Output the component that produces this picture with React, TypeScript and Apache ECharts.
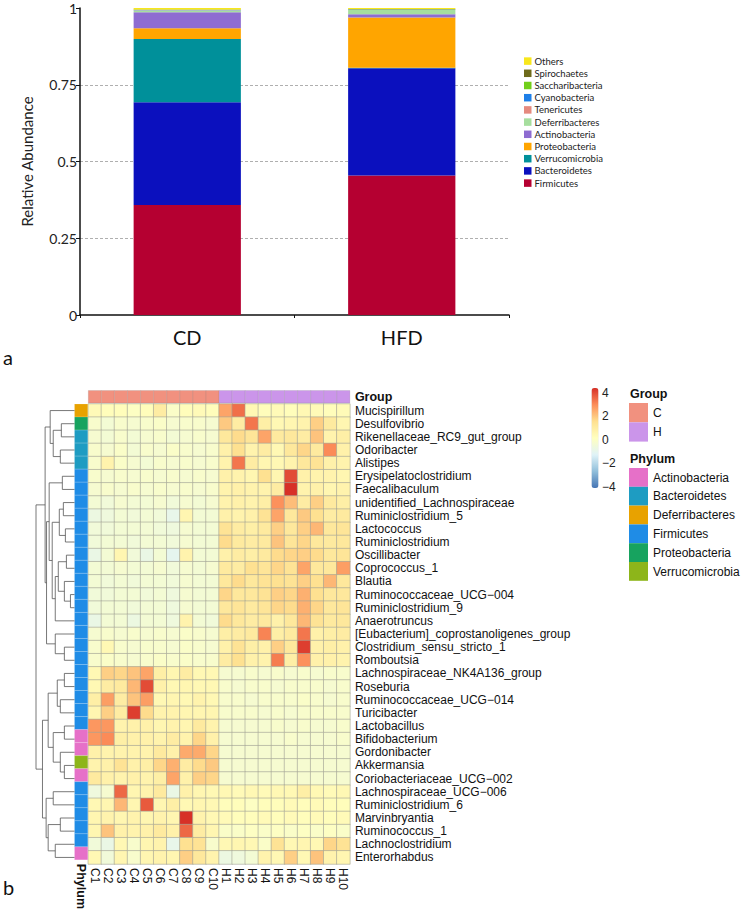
import React, { useEffect, useRef } from 'react';
import * as echarts from 'echarts';

// ---------- panel a : stacked relative abundance ----------
const barCategories = ['CD', 'HFD'];
const stackPhyla = ['Firmicutes', 'Bacteroidetes', 'Verrucomicrobia', 'Proteobacteria', 'Actinobacteria', 'Deferribacteres', 'Tenericutes', 'Cyanobacteria', 'Saccharibacteria', 'Spirochaetes', 'Others'];
const stackColors = ['#B50031', '#0B10BE', '#00909A', '#FFA500', '#8E6CD1', '#A6DE9E', '#E58A7F', '#1E7FE8', '#72CF1A', '#6E6A1A', '#F8E71C'];
const cdValues = [0.358, 0.335, 0.206, 0.035, 0.052, 0.006, 0.001, 0.0005, 0.001, 0.0005, 0.005];
const hfdValues = [0.454, 0.350, 0.001, 0.164, 0.011, 0.014, 0.0005, 0.0005, 0.001, 0.0005, 0.0035];

// ---------- panel b : heatmap ----------
const sampleNames = ['C1', 'C2', 'C3', 'C4', 'C5', 'C6', 'C7', 'C8', 'C9', 'C10', 'H1', 'H2', 'H3', 'H4', 'H5', 'H6', 'H7', 'H8', 'H9', 'H10'];
const sampleGroups = ['C', 'C', 'C', 'C', 'C', 'C', 'C', 'C', 'C', 'C', 'H', 'H', 'H', 'H', 'H', 'H', 'H', 'H', 'H', 'H'];
const groupNames = ['C', 'H'];
const groupColors = ['#F1917F', '#CB95EA'];
const phylumNames = ['Actinobacteria', 'Bacteroidetes', 'Deferribacteres', 'Firmicutes', 'Proteobacteria', 'Verrucomicrobia'];
const phylumColors = ['#E670C8', '#1E9CC2', '#E8A200', '#1F8CE6', '#17A35F', '#8DB51A'];
const genusNames = [
  'Mucispirillum', 'Desulfovibrio', 'Rikenellaceae_RC9_gut_group', 'Odoribacter', 'Alistipes',
  'Erysipelatoclostridium', 'Faecalibaculum', 'unidentified_Lachnospiraceae', 'Ruminiclostridium_5', 'Lactococcus',
  'Ruminiclostridium', 'Oscillibacter', 'Coprococcus_1', 'Blautia', 'Ruminococcaceae_UCG\u2212004',
  'Ruminiclostridium_9', 'Anaerotruncus', '[Eubacterium]_coprostanoligenes_group', 'Clostridium_sensu_stricto_1', 'Romboutsia',
  'Lachnospiraceae_NK4A136_group', 'Roseburia', 'Ruminococcaceae_UCG\u2212014', 'Turicibacter', 'Lactobacillus',
  'Bifidobacterium', 'Gordonibacter', 'Akkermansia', 'Coriobacteriaceae_UCG\u2212002', 'Lachnospiraceae_UCG\u2212006',
  'Ruminiclostridium_6', 'Marvinbryantia', 'Ruminococcus_1', 'Lachnoclostridium', 'Enterorhabdus',
];
const genusPhylum = [
  'Deferribacteres', 'Proteobacteria', 'Bacteroidetes', 'Bacteroidetes', 'Bacteroidetes',
  'Firmicutes', 'Firmicutes', 'Firmicutes', 'Firmicutes', 'Firmicutes',
  'Firmicutes', 'Firmicutes', 'Firmicutes', 'Firmicutes', 'Firmicutes',
  'Firmicutes', 'Firmicutes', 'Firmicutes', 'Firmicutes', 'Firmicutes',
  'Firmicutes', 'Firmicutes', 'Firmicutes', 'Firmicutes', 'Firmicutes',
  'Actinobacteria', 'Actinobacteria', 'Verrucomicrobia', 'Actinobacteria', 'Firmicutes',
  'Firmicutes', 'Firmicutes', 'Firmicutes', 'Firmicutes', 'Actinobacteria',
];
// rows: genus, columns: C1..C10, H1..H10 (z-scores)
const heatValues = [
  [0.2, 0.1, 0.1, -0.1, 0.1, 0.8, -0.2, 0.1, 0.2, 0.1, 2.3, 3.1, 0.3, 0.1, 0.2, 0.1, 0.3, 0.2, 0.1, 0.2],
  [-0.3, -0.5, -0.3, -0.4, -0.3, -0.2, -0.4, -0.3, -0.3, -0.4, 1.7, 0.8, 3.0, 0.7, 0.3, 0.4, 0.5, 1.6, 0.9, 0.4],
  [-0.4, -0.5, -0.3, -0.5, -0.4, -0.3, -0.5, -0.4, -0.3, -0.4, 1.0, 1.4, 1.1, 2.3, 0.9, 1.0, 0.8, 1.8, 0.5, 0.7],
  [-0.3, -0.4, -0.2, -0.5, -0.3, -0.4, -0.2, -0.3, -0.4, -0.3, 0.6, 1.3, 0.5, 0.8, 0.3, 1.0, 1.5, 0.9, 2.7, 0.6],
  [-0.3, 0.5, -0.2, -0.4, -0.5, -0.3, -0.4, -0.3, -0.4, -0.3, 0.5, 3.0, 0.8, 0.4, 0.3, 0.5, 1.0, 1.2, 0.6, 0.5],
  [-0.3, -0.4, -0.3, -0.4, -0.3, -0.4, -0.3, -0.4, -0.3, -0.4, 0.6, 0.5, 0.4, 1.3, 0.4, 3.6, 0.6, 0.5, 0.5, 0.4],
  [-0.4, -0.3, -0.4, -0.3, -0.4, -0.3, -0.4, -0.3, -0.4, -0.3, 0.5, 0.6, 0.5, 0.5, 0.8, 4.0, 0.5, 0.6, 0.4, 0.5],
  [-0.5, -0.6, -0.4, -0.5, -0.5, -0.4, -0.6, -0.4, -0.5, -0.4, 0.5, 0.6, 0.5, 0.7, 2.6, 1.9, 0.8, 1.6, 0.9, 0.7],
  [-0.8, -0.7, -0.5, -0.6, -0.5, -0.6, -1.0, 0.4, -0.5, -0.5, 0.6, 0.5, 0.6, 1.2, 2.3, 1.0, 1.7, 1.3, 0.8, 0.9],
  [-0.6, -0.6, -0.5, -0.5, -0.5, -0.6, -0.7, -0.4, -0.5, -0.5, 1.2, 0.8, 0.7, 0.9, 1.6, 1.0, 1.6, 2.0, 1.0, 1.1],
  [-0.6, -0.5, -0.5, -0.6, -0.5, -0.5, -0.6, -0.4, -0.5, -0.5, 1.4, 0.9, 0.8, 0.9, 1.8, 1.1, 1.5, 1.0, 0.9, 1.0],
  [-0.9, -0.5, 0.4, -0.6, -0.9, -0.5, -1.1, 0.5, -0.5, -0.5, 0.6, 0.8, 0.7, 0.9, 1.4, 1.5, 1.6, 1.4, 1.0, 1.1],
  [-0.5, -0.5, -0.4, -0.5, -0.5, -0.4, -0.6, -0.4, -0.5, -0.4, 0.9, 0.8, 1.3, 1.1, 1.5, 1.2, 2.3, 1.0, 1.0, 2.4],
  [-0.5, -0.6, -0.5, -0.6, -0.5, -0.5, -0.6, -0.4, -0.5, -0.5, 1.0, 1.4, 1.0, 1.2, 1.3, 1.2, 1.6, 1.3, 2.0, 1.0],
  [-0.6, -0.6, -0.5, -0.5, -0.6, -0.5, -0.7, -0.4, -0.5, -0.5, 1.5, 1.0, 1.0, 1.2, 1.6, 1.5, 2.1, 1.3, 1.0, 1.0],
  [-0.6, -0.5, -0.5, -0.6, -0.5, -0.5, -0.7, -0.4, -0.5, -0.5, 1.0, 1.1, 0.9, 1.1, 1.5, 1.4, 2.1, 1.5, 1.0, 1.1],
  [-0.9, -0.5, -0.5, -0.8, -0.5, -0.5, -0.7, 0.5, -0.5, -0.6, 1.4, 1.0, 0.8, 0.9, 0.6, 1.0, 2.0, 1.2, 0.9, 1.0],
  [-0.4, -0.3, -0.4, -0.3, -0.4, -0.3, -0.4, -0.2, -0.3, -0.4, 0.7, 0.8, 0.9, 2.8, 0.7, 0.9, 3.0, 0.6, 0.7, 0.8],
  [-0.3, 0.3, -0.3, -0.4, -0.3, -0.3, -0.4, -0.2, -0.3, -0.4, 0.6, 1.2, 0.7, 0.6, 1.6, 1.0, 3.8, 0.6, 0.7, 0.6],
  [-0.3, -0.2, -0.3, -0.4, -0.3, -0.2, -0.3, -0.2, -0.3, -0.3, 0.8, 1.3, 0.6, 0.5, 2.9, 0.7, 2.6, 0.6, 0.6, 0.5],
  [0.3, 1.6, 1.5, 1.8, 2.3, 0.7, 0.4, 0.8, 0.3, 0.3, -0.4, -0.4, -0.3, -0.4, -0.3, -0.4, -0.3, -0.4, -0.3, -0.3],
  [0.3, 0.8, 0.9, 2.0, 3.6, 0.6, 0.3, 0.4, 0.3, 0.3, -0.3, -0.4, -0.3, -0.3, -0.4, -0.3, -0.3, -0.3, -0.4, -0.3],
  [0.7, 2.4, 0.8, 1.8, 2.4, 0.3, 0.4, 0.3, 0.5, 0.3, -0.3, -0.3, -0.4, -0.3, -0.3, -0.3, -0.2, -0.3, -0.4, -0.3],
  [0.4, 1.6, 0.8, 3.8, 1.4, 0.5, 0.5, 0.4, 0.4, 0.4, -0.3, -0.3, -0.3, -0.4, -0.3, -0.4, -0.3, -0.3, -0.3, -0.3],
  [2.5, 2.5, 0.5, 0.6, 0.6, 0.4, 0.5, 0.4, 0.9, 0.5, -0.4, -0.4, -0.4, -0.4, -0.3, -0.4, -0.3, -0.4, -0.4, -0.3],
  [2.5, 2.7, 0.7, 0.6, 0.6, 0.5, 0.8, 0.5, 1.5, 0.6, -0.4, -0.4, -0.4, -0.4, -0.4, -0.3, -0.4, -0.4, -0.4, -0.3],
  [0.6, 0.5, 0.5, 0.5, 0.5, 0.9, 0.6, 2.2, 2.2, 1.5, -0.4, -0.4, -0.4, -0.4, -0.4, -0.4, -0.4, -0.4, -0.4, -0.4],
  [0.5, 0.6, 1.2, 0.6, 0.7, 1.5, 2.1, 0.8, 1.4, 1.7, -0.4, -0.4, -0.4, -0.4, -0.4, -0.4, -0.4, -0.4, -0.4, -0.4],
  [0.9, 0.6, 0.5, 0.6, 0.5, 0.7, 2.3, 0.6, 1.6, 1.5, -0.4, -0.4, -0.4, -0.4, -0.4, -0.4, -0.4, -0.4, -0.4, -0.4],
  [-0.7, -0.4, 3.2, 0.4, 0.5, 0.9, -0.9, 0.6, 0.4, 0.3, 0.3, 0.2, 0.3, 0.2, 0.3, 0.3, 0.7, 0.3, 0.2, 0.3],
  [0.3, 0.4, 2.0, 0.4, 3.4, 0.4, 0.7, 0.3, 0.4, 0.3, 0.1, 0.1, -0.1, 0.1, 0.1, 0.2, 0.1, 0.2, 0.1, 0.1],
  [0.4, 0.5, 0.4, 0.5, 0.4, 0.5, 0.4, 4.0, 0.5, 0.3, 0.2, 0.1, 0.1, 0.2, 0.1, 0.2, 0.1, 0.2, 0.1, 0.2],
  [0.4, 1.8, 0.6, 0.5, 0.6, 0.9, 0.6, 3.2, 0.8, 0.4, -0.2, -0.2, -0.1, -0.2, -0.1, -0.2, -0.1, -0.2, -0.1, -0.2],
  [-0.6, -0.9, 0.3, -0.3, 0.4, 0.5, -1.0, 1.3, 1.2, -0.3, 0.3, 0.4, 0.3, -0.2, 1.2, 0.3, 0.4, 0.3, 1.5, 1.2],
  [0.3, -0.6, 0.4, -0.3, 0.4, 0.5, 0.4, 1.6, 1.0, 0.5, -0.8, -0.7, -0.5, 0.5, 0.3, 1.6, 0.3, 1.8, 0.5, 0.4],
];
const heatColors = ['#4575B4', '#91BFDB', '#E0F3F8', '#FFFFBF', '#FEE090', '#FC8D59', '#D73027'];
// hclust-style merges: negative = leaf (1-based row), positive = earlier merge step; third = height
const dendroMerges: [number, number, number][] = [
  [-15, -16, 4], [-12, -13, 8], [-10, -11, 9], [-14, 1, 10], [-19, -20, 10],
  [-21, -22, 10], [-25, -26, 10], [-28, -29, 10], [-8, -9, 11], [-6, -7, 12],
  [-2, -3, 13], [-4, -5, 14], [-23, -24, 14], [-27, 8, 14], [-32, -33, 14],
  [9, 3, 15], [2, 4, 16], [6, 13, 17], [17, -17, 19], [-18, 5, 19],
  [-34, -35, 19], [11, 12, 21], [7, 14, 21], [-30, -31, 21], [16, 19, 22],
  [-1, 22, 24], [10, 25, 25], [18, 23, 26], [15, 21, 26], [27, 20, 27.6],
  [24, 29, 28], [26, 30, 29], [28, 31, 31.6], [32, 33, 38],
];

function dendroSegments() {
  const nodes: { h: number; y: number }[] = [];
  const pos = (id: number) => (id < 0 ? { h: 0, y: -id - 0.5 } : nodes[id - 1]);
  const segs: number[][] = [];
  dendroMerges.forEach(([a, b, h]) => {
    const A = pos(a);
    const B = pos(b);
    segs.push([A.h, A.y, h, A.y]);
    segs.push([B.h, B.y, h, B.y]);
    segs.push([h, A.y, h, B.y]);
    nodes.push({ h, y: (A.y + B.y) / 2 });
  });
  return segs;
}

const SANS = '"Liberation Sans", Arial, sans-serif';
const CAL = 'Lato, "Open Sans", sans-serif';

export default function App() {
  const ref = useRef<HTMLDivElement>(null);
  useEffect(() => {
    document.body.style.margin = '0';
    const chart = echarts.init(ref.current!, null, { renderer: 'svg' });

    const heatData: number[][] = [];
    heatValues.forEach((row, r) => row.forEach((v, c) => heatData.push([c, r, v])));

    const barSeries = stackPhyla.map((name, i) => ({
      name,
      type: 'bar',
      stack: 'total',
      xAxisIndex: 0,
      yAxisIndex: 0,
      barWidth: '50%',
      itemStyle: { color: stackColors[i] },
      emphasis: { disabled: true },
      data: [cdValues[i], hfdValues[i]],
    }));
    const heatIndex = barSeries.length;

    const graphics: any[] = [
      { type: 'text', left: 3, top: 347, style: { text: 'a', font: `20px ${CAL}`, fill: '#111' } },
      { type: 'text', left: 3, top: 877, style: { text: 'b', font: `20px ${CAL}`, fill: '#111' } },
      { type: 'text', x: 630, y: 394, style: { text: 'Group', font: `bold 12.5px ${SANS}`, fill: '#111', verticalAlign: 'middle' } },
      { type: 'text', x: 630, y: 459, style: { text: 'Phylum', font: `bold 12.5px ${SANS}`, fill: '#111', verticalAlign: 'middle' } },
    ];
    groupNames.forEach((g, i) => {
      const y = 403 + i * 19.3;
      graphics.push({ type: 'rect', shape: { x: 629, y, width: 19, height: 19.3 }, style: { fill: groupColors[i] } });
      graphics.push({ type: 'text', x: 653, y: y + 9.8, style: { text: g, font: `12px ${SANS}`, fill: '#111', verticalAlign: 'middle' } });
    });
    phylumNames.forEach((p, i) => {
      const y = 468 + i * 18.8;
      graphics.push({ type: 'rect', shape: { x: 629, y, width: 19, height: 18.8 }, style: { fill: phylumColors[i] } });
      graphics.push({ type: 'text', x: 653, y: y + 9.6, style: { text: p, font: `12px ${SANS}`, fill: '#111', verticalAlign: 'middle' } });
    });

    const option: any = {
      animation: false,
      textStyle: { fontFamily: SANS },
      grid: [
        { left: 80, top: 8, width: 429, height: 307 },
        { left: 88.3, top: 404, width: 261.6, height: 460 },
        { left: 88.3, top: 390.5, width: 261.6, height: 12.5 },
        { left: 74.5, top: 404, width: 13.3, height: 460 },
        { left: 36, top: 404, width: 38.5, height: 460 },
        { left: 597, top: 392.5, width: 1, height: 94 },
      ],
      xAxis: [
        {
          gridIndex: 0, type: 'category', data: barCategories,
          axisLine: { lineStyle: { color: '#111', width: 1.5 } },
          axisTick: { show: true, length: 3, lineStyle: { color: '#111' } },
          axisLabel: { fontSize: 20, color: '#111', margin: 12, fontFamily: CAL },
        },
        {
          gridIndex: 1, type: 'category', data: sampleNames, position: 'bottom',
          axisLine: { show: false }, axisTick: { show: false }, splitLine: { show: false },
          axisLabel: { rotate: -90, fontSize: 12, margin: 4, color: '#111', interval: 0 },
        },
        { gridIndex: 2, type: 'category', data: sampleNames, show: false },
        {
          gridIndex: 3, type: 'category', data: ['Phylum'], position: 'bottom',
          axisLine: { show: false }, axisTick: { show: false },
          axisLabel: { rotate: -90, fontSize: 12.5, fontWeight: 'bold', margin: 4, color: '#111' },
        },
        { gridIndex: 4, type: 'value', min: 0, max: 38, inverse: true, show: false },
        { gridIndex: 5, type: 'value', min: 0, max: 1, show: false },
      ],
      yAxis: [
        {
          gridIndex: 0, type: 'value', min: 0, max: 1, interval: 0.25,
          axisLine: { show: true, lineStyle: { color: '#111', width: 1.5 } },
          axisTick: { show: true, length: 4, lineStyle: { color: '#111' } },
          axisLabel: { fontSize: 14, color: '#222', margin: 3, fontFamily: CAL },
          splitLine: { show: true, showMaxLine: false, showMinLine: false, lineStyle: { type: [3, 2], color: '#9a9a9a', width: 0.8 } },
          name: 'Relative Abundance', nameLocation: 'middle', nameGap: 46,
          nameTextStyle: { fontSize: 15, color: '#222', fontFamily: CAL },
        },
        {
          gridIndex: 1, type: 'category', data: genusNames, inverse: true, position: 'right',
          axisLine: { show: false }, axisTick: { show: false }, splitLine: { show: false },
          axisLabel: { fontSize: 12, margin: 5, color: '#111', interval: 0 },
        },
        {
          gridIndex: 2, type: 'category', data: ['Group'], position: 'right',
          axisLine: { show: false }, axisTick: { show: false },
          axisLabel: { fontSize: 12.5, fontWeight: 'bold', margin: 5, color: '#111' },
        },
        { gridIndex: 3, type: 'category', data: genusNames, inverse: true, show: false },
        { gridIndex: 4, type: 'value', min: 0, max: 35, inverse: true, show: false },
        {
          gridIndex: 5, type: 'value', min: -4, max: 4, interval: 2, position: 'right',
          axisLine: { show: false }, axisTick: { show: false }, splitLine: { show: false },
          axisLabel: { fontSize: 12, margin: 4, color: '#222', formatter: (v: number) => String(v).replace('-', '\u2212') },
        },
      ],
      legend: {
        data: [...stackPhyla].reverse(),
        orient: 'vertical', left: 519, top: 50,
        itemWidth: 7.5, itemHeight: 7.5, itemGap: 0, icon: 'rect',
        textStyle: { fontSize: 9.5, lineHeight: 12.2, color: '#222', fontFamily: CAL, padding: [0, 0, 0, -2] },
        selectedMode: false,
      },
      visualMap: {
        type: 'continuous', min: -4, max: 4, seriesIndex: heatIndex, calculable: false,
        orient: 'vertical', left: 591.5, top: 388, itemWidth: 7, itemHeight: 100, padding: 0,
        inRange: { color: heatColors },
      },
      graphic: graphics,
      series: [
        ...barSeries,
        {
          type: 'heatmap', xAxisIndex: 1, yAxisIndex: 1, data: heatData,
          itemStyle: { borderColor: '#a2a296', borderWidth: 0.6 },
          emphasis: { disabled: true },
        },
        {
          type: 'custom', xAxisIndex: 2, yAxisIndex: 2,
          data: sampleGroups.map((g, i) => [i, 0, groupNames.indexOf(g)]),
          renderItem: (params: any, api: any) => {
            const p = api.coord([api.value(0), api.value(1)]);
            const s = api.size([1, 1]);
            return {
              type: 'rect',
              shape: { x: p[0] - s[0] / 2, y: p[1] - s[1] / 2, width: s[0], height: s[1] },
              style: { fill: groupColors[api.value(2)], stroke: 'rgba(120,120,120,0.35)', lineWidth: 0.5 },
            };
          },
        },
        {
          type: 'custom', xAxisIndex: 3, yAxisIndex: 3,
          data: genusPhylum.map((p, i) => [0, i, phylumNames.indexOf(p)]),
          renderItem: (params: any, api: any) => {
            const p = api.coord([api.value(0), api.value(1)]);
            const s = api.size([1, 1]);
            return {
              type: 'rect',
              shape: { x: p[0] - s[0] / 2, y: p[1] - s[1] / 2, width: s[0], height: s[1] },
              style: { fill: phylumColors[api.value(2)], stroke: 'rgba(255,255,255,0.3)', lineWidth: 0.5 },
            };
          },
        },
        {
          type: 'custom', xAxisIndex: 4, yAxisIndex: 4, clip: false,
          data: dendroSegments(),
          encode: { x: [0, 2], y: [1, 3] },
          renderItem: (params: any, api: any) => {
            const a = api.coord([api.value(0), api.value(1)]);
            const b = api.coord([api.value(2), api.value(3)]);
            return {
              type: 'line',
              shape: { x1: a[0], y1: a[1], x2: b[0], y2: b[1] },
              style: { stroke: '#555', lineWidth: 0.8 },
            };
          },
        },
      ],
    };
    chart.setOption(option);
    return () => chart.dispose();
  }, []);
  return <div ref={ref} style={{ width: 748, height: 912 }} />;
}
